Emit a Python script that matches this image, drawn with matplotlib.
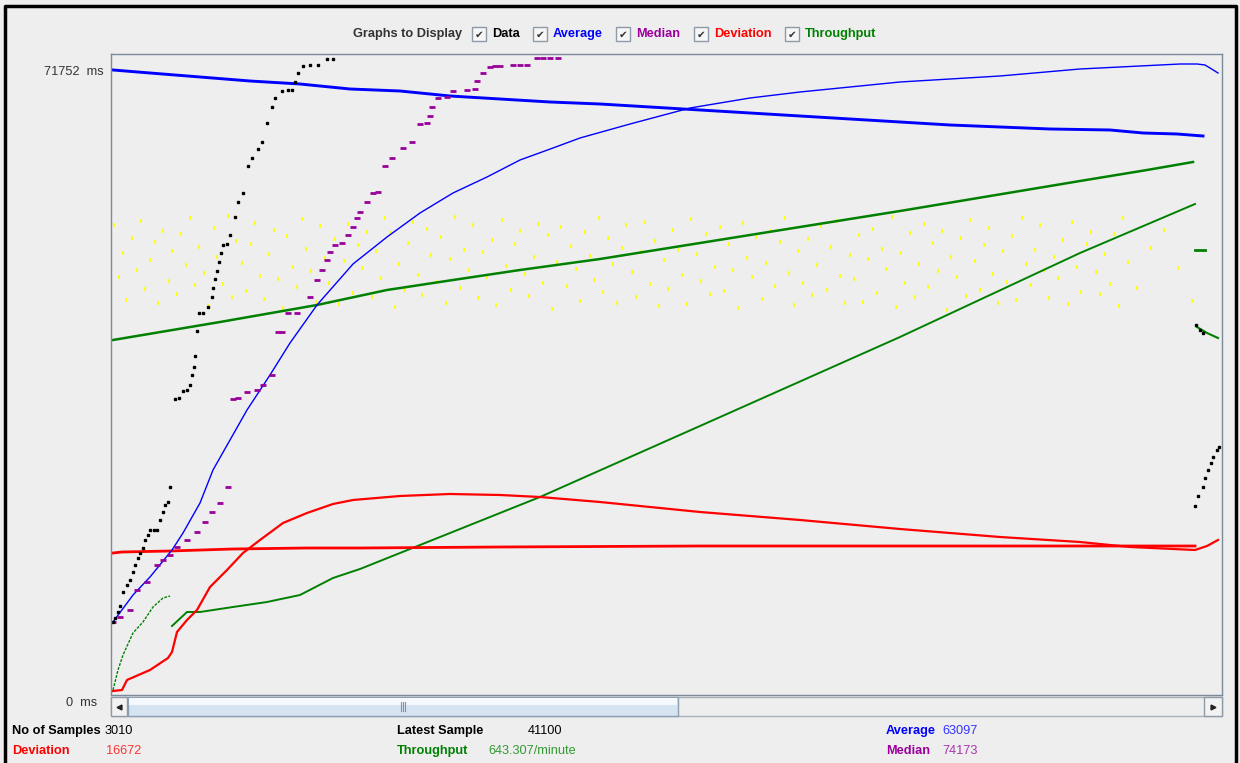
import matplotlib.pyplot as plt
from matplotlib.patches import Rectangle

BG = '#eeeeee'
FRAME = '#7a8a99'
BLUE = '#0000ff'
RED = '#ff0000'
PURPLE = '#990099'
GREEN = '#008000'

# x = sample column on the graph, y = response time in ms
y_max_label = 71752

avg_top_x = [2, 39, 89, 139, 189, 239, 289, 339, 389, 439, 489, 539, 589, 639, 689, 739, 789, 839, 889, 939,
             999, 1032, 1066, 1092]
avg_top_ms = [71717, 71371, 70910, 70448, 70102, 69526, 69295, 68719, 68373, 68027, 67796, 67451, 67105, 66759,
              66413, 66067, 65721, 65375, 65145, 64914, 64799, 64453, 64338, 64107]

avg_curve_x = [2, 22, 39, 61, 72, 89, 102, 119, 136, 159, 179, 206, 242, 276, 309, 342, 376, 409, 442, 469,
               519, 579, 639, 689, 789, 889, 969, 1029, 1069, 1086, 1094, 1099, 1107]
avg_curve_ms = [8071, 11184, 13260, 16373, 18333, 21792, 25597, 29056, 32515, 36550, 40240, 44621, 49348, 52462,
                55229, 57535, 59380, 61340, 62723, 63876, 65490, 67335, 68488, 69180, 70333, 71025, 71832, 72178,
                72408, 72408, 72293, 71947, 71371]

data_x = [2, 4, 7, 9, 12, 16, 19, 22, 24, 27, 29, 32, 34, 37, 39, 43, 46, 49, 52, 54,
          57, 59, 64, 68, 72, 76, 79, 81, 83, 84, 86, 88, 92, 97, 101, 102, 104, 106, 108, 110,
          112, 116, 119, 124, 127, 132, 137, 141, 147, 151, 156, 161, 164, 171, 177, 181, 184, 187, 192, 199,
          207, 216, 222, 1084, 1085, 1087, 1089, 1092, 1092, 1094, 1097, 1100, 1102, 1106, 1108]
data_ms = [8071, 8532, 9224, 9916, 11530, 12337, 12914, 13836, 14643, 15450, 16027, 16603, 17526, 18102, 18679,
           18679, 18679, 19832, 20754, 21561, 21907, 23637, 33783, 33898, 34706, 34821, 35397, 36550, 37473, 38741,
           41624, 43699, 43699, 44391, 45544, 46581, 47619, 48541, 49579, 50617, 51539, 51654, 52692, 54768, 56497,
           57535, 60648, 61570, 62608, 63415, 65606, 67451, 68488, 69295, 69411, 69411, 70333, 71371, 72178, 72293,
           72293, 72985, 72985, 21446, 42315, 22599, 41739, 23637, 41393, 24674, 25597, 26404, 27096, 27903, 28249]

median_x = [2, 9, 19, 26, 36, 46, 52, 59, 66, 76, 86, 94, 101, 109, 117, 122, 127, 136, 146, 152,
            161, 167, 171, 177, 186, 199, 206, 211, 216, 219, 224, 231, 237, 242, 246, 249, 256, 262, 267, 274,
            281, 292, 301, 309, 316, 319, 321, 327, 336, 342, 356, 364, 366, 372, 379, 384, 389, 402, 409, 416,
            426, 432, 439, 447]
median_ms = [8071, 8648, 9455, 11761, 12683, 14643, 15220, 15796, 16719, 17526, 18448, 19601, 20754, 21792, 23637,
             33783, 33898, 34590, 34821, 35397, 36550, 41508, 41508, 43699, 43699, 45544, 47504, 48657, 49810, 50732,
             51539, 51770, 52692, 53615, 54652, 55344, 56497, 57535, 57650, 60648, 61570, 62723, 63415, 65490, 65606,
             66413, 67451, 68488, 68604, 69295, 69411, 69526, 70448, 71371, 72063, 72178, 72178, 72293, 72293, 72293,
             73100, 73100, 73100, 73100]

dev_flat_x = [2, 11, 59, 122, 196, 249, 389, 589, 789, 989, 1084]
dev_flat_ms = [16027, 16142, 16257, 16488, 16603, 16603, 16719, 16834, 16834, 16834, 16834]

dev_curve_x = [2, 11, 16, 39, 57, 61, 66, 76, 86, 99, 116, 132, 149, 172, 196, 222, 242, 289, 339, 389,
               429, 489, 589, 689, 789, 889, 969, 1019, 1084, 1096, 1107]
dev_curve_ms = [115, 231, 1384, 2537, 3920, 4612, 6918, 8302, 9455, 12106, 14067, 16027, 17526, 19486, 20639,
                21676, 22138, 22599, 22830, 22714, 22484, 21907, 20754, 19832, 18794, 17872, 17295, 16719, 16373,
                16834, 17526]

tp_left_x = [2, 7, 12, 22, 32, 42, 52, 59]
tp_left_ms = [231, 2537, 4266, 6803, 8071, 9801, 10838, 11069]
tp_low_x = [61, 76, 89, 122, 156, 189, 222, 249, 319, 429, 589, 789, 969, 1084]
tp_low_ms = [7610, 9224, 9224, 9801, 10377, 11184, 13144, 14182, 17410, 22484, 30671, 40932, 50617, 56266]
tp_up_x = [2, 109, 206, 276, 342, 409, 489, 589, 689, 789, 969, 1036, 1082]
tp_up_ms = [40586, 42661, 44621, 46351, 47504, 48657, 49925, 51770, 53615, 55459, 58918, 60187, 61109]
tp_tail_a_x = [1084, 1094]
tp_tail_a_ms = [50963, 50963]
tp_tail_b_x = [1086, 1096, 1107]
tp_tail_b_ms = [42084, 41393, 40817]

old_x = [3, 8, 12, 15, 21, 26, 30, 34, 39, 44, 47, 52, 58, 61, 66, 70, 75, 79, 84, 88,
         93, 97, 103, 106, 112, 117, 121, 125, 131, 135, 140, 144, 149, 153, 158, 163, 167, 172, 176, 182,
         186, 191, 195, 200, 205, 209, 214, 218, 224, 228, 233, 237, 242, 247, 251, 256, 261, 265, 270, 274,
         279, 284, 288, 293, 297, 302, 307, 311, 316, 320, 326, 330, 335, 339, 344, 349, 353, 358, 362, 367,
         372, 376, 381, 385, 391, 395, 400, 404, 409, 414, 418, 423, 427, 432, 437, 441, 446, 450, 456, 460,
         465, 469, 474, 479, 483, 488, 492, 497, 502, 506, 511, 515, 521, 525, 530, 534, 539, 544, 548, 553,
         557, 562, 567, 571, 576, 580, 586, 590, 595, 599, 604, 609, 613, 618, 622, 627, 632, 636, 641, 645,
         651, 655, 660, 664, 669, 674, 678, 683, 687, 692, 697, 701, 706, 710, 716, 720, 725, 729, 734, 739,
         743, 748, 752, 757, 762, 766, 771, 775, 781, 785, 790, 794, 799, 804, 808, 813, 817, 822, 827, 831,
         836, 840, 846, 850, 855, 859, 864, 869, 873, 878, 882, 887, 892, 896, 901, 905, 911, 915, 920, 924,
         929, 934, 938, 943, 947, 952, 957, 961, 966, 970, 976, 980, 985, 989, 994, 999, 1003, 1008, 1012, 1017,
         1026, 1040, 1053, 1067, 1081]
old_ms = [53800, 47900, 50600, 45200, 52400, 48700, 54300, 46500, 49800, 51900,
          44800, 53100, 47400, 50900, 45900, 52800, 49200, 54600, 46900, 51300,
          48300, 44500, 53500, 50200, 47000, 54900, 45600, 52000, 49500, 46200,
          51600, 54100, 48000, 45300, 50500, 53300, 47600, 44300, 52600, 49000,
          46700, 54500, 51100, 48500, 45000, 53700, 50000, 47200, 52200, 44700,
          49700, 54000, 46000, 51500, 48900, 53000, 45500, 50800, 47700, 54700,
          52900, 44400, 49300, 46400, 51800, 54200, 48100, 45800, 53400, 50400,
          47300, 52500, 44900, 49900, 54800, 46600, 51000, 48600, 53900, 45400,
          50700, 47800, 52100, 44600, 54400, 49100, 46300, 51700, 53200, 48200,
          45700, 50100, 54000, 47100, 52700, 44200, 49600, 53600, 46800, 51400,
          48800, 45100, 53000, 50300, 47500, 54600, 46100, 52300, 49400, 44900,
          51200, 53800, 48400, 45600, 50700, 54200, 47000, 52000, 44500, 49800,
          46500, 53300, 51000, 48100, 44700, 54500, 50500, 47400, 52800, 45900,
          49000, 53600, 46200, 51600, 48600, 44300, 54100, 50000, 47800, 52500,
          45300, 49500, 53100, 46800, 51900, 54700, 48300, 44600, 50800, 47200,
          52200, 45800, 49200, 53700, 46400, 51300, 54300, 48000, 44800, 50400,
          47600, 52700, 45000, 49900, 53400, 46000, 51100, 48800, 54800, 44400,
          50600, 47100, 52900, 45500, 49300, 54000, 46700, 51800, 48500, 53200,
          44100, 50200, 47900, 52400, 45700, 54400, 49700, 46300, 51500, 53500,
          48200, 44900, 50900, 47300, 52600, 45200, 54600, 49400, 46900, 51000,
          53900, 48700, 45400, 50100, 47700, 52100, 44700, 54200, 49000, 46100,
          51700, 53000, 48400, 45900, 50500, 47000, 52800, 44500, 54700, 49600,
          46600, 51200, 53300, 48900, 45100]

series_names = ['Data', 'Average', 'Median', 'Deviation', 'Throughput']
series_colors = ['black', BLUE, PURPLE, RED, GREEN]

n_samples = 3010
latest_sample = 41100
average = 63097
deviation = 16672
median = 74173
throughput = '643.307/minute'

plt.rcParams['font.family'] = ['Liberation Sans', 'DejaVu Sans']

fig = plt.figure(figsize=(12.4, 7.63), dpi=100, facecolor=BG)

# window decoration drawn in pixel coordinates
ui = fig.add_axes([0, 0, 1, 1])
ui.set_xlim(0, 1240)
ui.set_ylim(763, 0)
ui.axis('off')

ui.plot([5, 5, 1236, 1236], [763, 6, 6, 763], color='black', lw=2.5)

ui.text(462, 34, 'Graphs to Display', ha='right', va='center', fontsize=9.2,
        fontweight='bold', color='#333333')
cb_left = [472, 533, 616, 694, 785]
for cx, name, col in zip(cb_left, series_names, series_colors):
    ui.add_patch(Rectangle((cx, 27), 14, 14, fc='#f6f6f6', ec='#8e9aa6', lw=1))
    ui.text(cx + 7, 34.5, '\u2714', ha='center', va='center', fontsize=7.5,
            family='DejaVu Sans', color='#333333')
    ui.text(cx + 20, 34, name, ha='left', va='center', fontsize=9.2,
            fontweight='bold', color=col)

# y labels
ui.text(104, 72, f'{y_max_label}  ms', ha='right', va='center', fontsize=9.2, color='#333333')
ui.text(97, 703, '0  ms', ha='right', va='center', fontsize=9.2, color='#333333')

# scrollbar
ui.add_patch(Rectangle((111, 697), 1111, 19, fc=BG, ec='#a6b0ba', lw=1))
ui.add_patch(Rectangle((111, 697), 16, 19, fc='#f2f2f2', ec='#8e9aa6', lw=1))
ui.plot([119], [706.5], marker='<', ms=3.5, color='#222222')
ui.add_patch(Rectangle((128, 697), 550, 19, fc='#d6e3f1', ec='#8d9fb3', lw=1))
ui.add_patch(Rectangle((129, 698), 548, 7, fc='#f5f8fc', ec='none'))
for gx in [401, 403, 405]:
    ui.plot([gx, gx], [702, 711], color='#7f93aa', lw=0.8)
ui.add_patch(Rectangle((1204, 697), 18, 19, fc='#f2f2f2', ec='#8e9aa6', lw=1))
ui.plot([1213], [706.5], marker='>', ms=3.5, color='#222222')

# statistics
stats = [
    (12, 105, 731, 'No of Samples', str(n_samples), 'black', 'black'),
    (12, 106, 751, 'Deviation', str(deviation), RED, '#ff3333'),
    (397, 528, 731, 'Latest Sample', str(latest_sample), 'black', 'black'),
    (397, 488, 751, 'Throughput', throughput, GREEN, '#339933'),
    (886, 942, 731, 'Average', str(average), BLUE, '#3333ff'),
    (886, 942, 751, 'Median', str(median), PURPLE, '#aa33aa'),
]
for lx, vx, ty, lab, val, c1, c2 in stats:
    ui.text(lx, ty, lab, ha='left', va='center', fontsize=9.2, fontweight='bold', color=c1)
    ui.text(vx, ty, val, ha='left', va='center', fontsize=9.2, color=c2)

# the graph itself
ax = fig.add_axes([111 / 1240, 1 - 695 / 763, 1111 / 1240, 641 / 763])
ax.set_facecolor(BG)
for s in ax.spines.values():
    s.set_color(FRAME)
    s.set_linewidth(1)
ax.set_xticks([])
ax.set_yticks([])
ax.set_xlim(0, 1111)
ax.set_ylim(-346, 73561)

ax.plot(old_x, old_ms, linestyle='none', marker='|', ms=3.2, mew=1.3, color='#ffff00')

ax.plot(tp_left_x, tp_left_ms, color=GREEN, lw=1.0, linestyle=(0, (2, 1)))
ax.plot(tp_low_x, tp_low_ms, color=GREEN, lw=1.4)
ax.plot(tp_up_x, tp_up_ms, color=GREEN, lw=1.8)
ax.plot(tp_tail_a_x, tp_tail_a_ms, color=GREEN, lw=2)
ax.plot(tp_tail_b_x, tp_tail_b_ms, color=GREEN, lw=1.5)

ax.plot(dev_flat_x, dev_flat_ms, color=RED, lw=2)
ax.plot(dev_curve_x, dev_curve_ms, color=RED, lw=1.6)

ax.plot(avg_top_x, avg_top_ms, color=BLUE, lw=2.1)
ax.plot(avg_curve_x, avg_curve_ms, color=BLUE, lw=1.0)

ax.plot(median_x, median_ms, linestyle='none', marker='_', ms=4.5, mew=2.0, color=PURPLE)
ax.plot(data_x, data_ms, linestyle='none', marker='s', ms=1.6, color='black')

fig.savefig('out.png', dpi=100, facecolor=BG)
